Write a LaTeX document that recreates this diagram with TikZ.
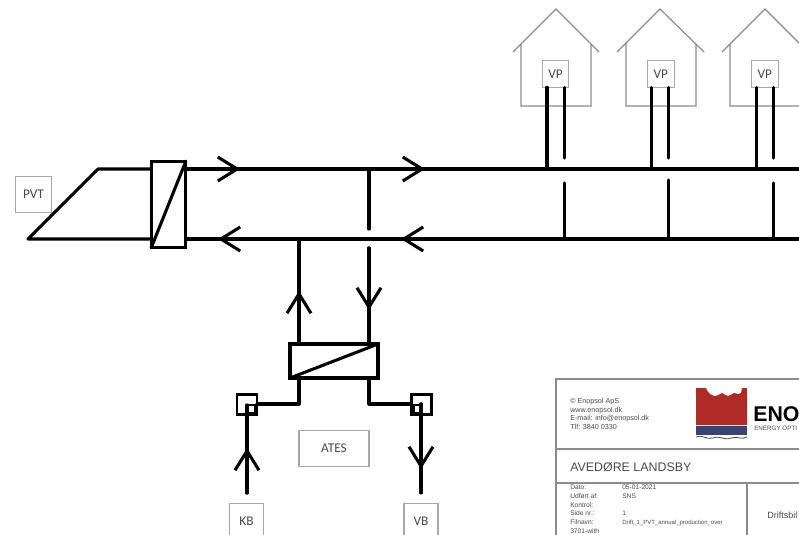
\documentclass[tikz,border=0pt]{standalone}
\usepackage{fontspec}
\usepackage{xcolor}
\setmainfont{Carlito}
\newfontfamily\blockfont{Liberation Sans}
\definecolor{boxgray}{HTML}{a8a8a8}
\definecolor{housegray}{HTML}{8c8c8c}
\definecolor{labelgray}{HTML}{4a4a4a}
\definecolor{logored}{HTML}{b02a26}
\definecolor{logoblue}{HTML}{3a4373}
\usetikzlibrary{arrows.meta, positioning}

\begin{document}
\begin{tikzpicture}[
    x=0.75pt, y=-0.75pt,
    pipe/.style={line width=2.3pt, line cap=round, line join=round},
    flow/.style={pipe, -{Straight Barb[length=14.5pt, width=18pt, line width=2.3pt]}},
    exchanger/.style={draw, line width=2.4pt, inner sep=0pt, outer sep=0pt},
    valve/.style={draw, line width=1.7pt, inner sep=0pt, outer sep=0pt},
    tag/.style={draw=boxgray, line width=0.8pt, fill=white, inner sep=0pt, outer sep=0pt, text=labelgray, font=\fontsize{10}{11}\selectfont},
    house/.style={draw=housegray, line width=0.9pt, line join=miter},
    frame/.style={draw=housegray, line width=0.9pt},
    blocktext/.style={align=left, inner sep=0pt, text=labelgray, font=\blockfont\fontsize{5}{6.5}\selectfont}
]
    \useasboundingbox (0,0) rectangle (799,535);
    \clip (0,0) rectangle (799,535);

    % Collector and main exchanger
    \node[tag, minimum width=26.5pt, minimum height=26.5pt] (pvt) at (33.5,194.5) {PVT};
    \node[exchanger, minimum width=26pt, minimum height=65pt] (hx1) at (168.5,204.5) {};
    \coordinate (ctop) at (98,169);
    \coordinate (cbot) at (28,239);
    \coordinate (tarrow1) at (240,169);
    \coordinate (tarrow2) at (425,169);
    \coordinate (tend) at (799,169);
    \coordinate (barrow1) at (218,239);
    \coordinate (barrow2) at (401,239);
    \coordinate (bend) at (799,239);

    \draw[pipe] (hx1.west |- ctop) -- (ctop) -- (cbot) -- (hx1.west |- cbot);
    \draw[pipe] (hx1.north east) -- (hx1.south west);
    \draw[flow] (hx1.east |- ctop) -- (tarrow1);
    \draw[flow] (tarrow1) -- (tarrow2);
    \draw[pipe] (hx1.east |- ctop) -- (tend);
    \draw[flow] (bend) -- (barrow2);
    \draw[flow] (barrow2) -- (barrow1);
    \draw[pipe] (bend) -- (hx1.east |- cbot);

    % Lower exchanger
    \node[exchanger, minimum width=66pt, minimum height=25.5pt] (hx2) at (334,361) {};
    \draw[pipe] (hx2.north east) -- (hx2.south west);
    \coordinate (riser) at (299,239);
    \coordinate (rarrow) at (299,291);
    \coordinate (ltop) at (369,169);
    \coordinate (lgap) at (369,229);
    \coordinate (lstart) at (369,248);
    \coordinate (larrow) at (369,310);
    \draw[flow] (riser |- hx2.north) -- (rarrow);
    \draw[pipe] (riser |- hx2.north) -- (riser);
    \draw[pipe] (ltop) -- (lgap);
    \draw[flow] (lstart) -- (larrow);
    \draw[pipe] (lstart) -- (lstart |- hx2.north);

    % Valves
    \node[valve, minimum width=15pt, minimum height=15pt] (kvalve) at (247,404.5) {};
    \node[valve, minimum width=6pt, minimum height=6pt] (kinner) at (251,409) {};
    \node[valve, minimum width=15pt, minimum height=15pt] (vvalve) at (421.5,404.5) {};
    \node[valve, minimum width=6pt, minimum height=6pt] (vinner) at (417.5,409) {};
    \coordinate (kelbow) at (299,404);
    \coordinate (velbow) at (369,404);
    \draw[pipe] (kelbow |- hx2.south) -- (kelbow) -- (kvalve.east |- kelbow);
    \draw[pipe] (velbow |- hx2.south) -- (velbow) -- (vvalve.west |- velbow);

    % Labels
    \node[tag, minimum width=52.5pt, minimum height=26.5pt] (ates) at (334,448.5) {ATES};
    \node[tag, minimum width=25.5pt, minimum height=26.5pt] (kb) at (246.5,521) {KB};
    \node[tag, minimum width=25.5pt, minimum height=26.5pt] (vb) at (421,521) {VB};
    \coordinate (kstart) at (247,493);
    \coordinate (karrow) at (247,448);
    \coordinate (vstart) at (421,404);
    \coordinate (varrow) at (421,469);
    \coordinate (vstop) at (421,493);
    \draw[flow] (kstart) -- (karrow);
    \draw[pipe] (kstart) -- (karrow |- kinner.north);
    \draw[flow] (vstart) -- (varrow);
    \draw[pipe] (vstart) -- (vstop);

    % Houses
    \draw[house] (513,52) -- (556,9) -- (599,52) (521,44) -- (521,106) -- (591,106) -- (591,44);
    \draw[house] (617,52) -- (660,9) -- (704,52) (626,44) -- (626,106) -- (696,106) -- (696,44);
    \draw[house] (722,52) -- (765,9) -- (808,52) (730,44) -- (730,106) -- (800,106) -- (800,44);
    \node[tag, minimum width=20pt, minimum height=20pt] (vp1) at (555.5,74) {VP};
    \node[tag, minimum width=20pt, minimum height=20pt, right=59pt of vp1] (vp2) {VP};
    \node[tag, minimum width=20pt, minimum height=20pt, right=58pt of vp2] (vp3) {VP};

    % Heat pump branches
    \coordinate (stop) at (0,158);
    \coordinate (low1) at (0,183);
    \coordinate (low2) at (0,180);
    \draw[pipe] ([xshift=-6.4pt]vp1.south) -- ([xshift=-6.4pt]vp1.south |- tend);
    \draw[pipe] ([xshift=6.4pt]vp1.south) -- ([xshift=6.4pt]vp1.south |- stop);
    \draw[pipe] ([xshift=6.4pt]vp1.south |- low1) -- ([xshift=6.4pt]vp1.south |- bend);
    \draw[pipe] ([xshift=-6.8pt]vp2.south) -- ([xshift=-6.8pt]vp2.south |- tend);
    \draw[pipe] ([xshift=6pt]vp2.south) -- ([xshift=6pt]vp2.south |- stop);
    \draw[pipe] ([xshift=6pt]vp2.south |- low2) -- ([xshift=6pt]vp2.south |- bend);
    \draw[pipe] ([xshift=-6pt]vp3.south) -- ([xshift=-6pt]vp3.south |- tend);
    \draw[pipe] ([xshift=6.8pt]vp3.south) -- ([xshift=6.8pt]vp3.south |- stop);
    \draw[pipe] ([xshift=6.8pt]vp3.south |- low1) -- ([xshift=6.8pt]vp3.south |- bend);

    % Title block
    \draw[frame] (810,379) -- (556,379) -- (556,545);
    \draw[frame] (556,449) -- (810,449);
    \draw[frame] (556,483) -- (810,483);
    \draw[frame] (747,483) -- (747,545);
    \node[blocktext, anchor=north west, font=\blockfont\fontsize{5.4}{6.5}\selectfont] (contact) at (570,398) {\textcopyright{} Enopsol ApS\\www.enopsol.dk\\E-mail: info@enopsol.dk\\Tlf: 3840 0330};
    \node[blocktext, anchor=west, font=\blockfont\fontsize{9.3}{11}\selectfont] (project) at (570,467) {AVEDØRE LANDSBY};
    \node[blocktext, anchor=north west] (fields) at (570,485) {Dato:\\Udført af:\\Kontrol:\\Side nr.:\\Filnavn:\\3701-with};
    \node[blocktext, anchor=north west] (values) at (622,485) {05-01-2021\\SNS\\\phantom{X}\\1\\{\fontsize{4.5}{6.5}\selectfont Drift\_1\_PVT\_annual\_production\_over}};
    \node[blocktext, anchor=west, font=\blockfont\fontsize{6.8}{8}\selectfont] (drawing) at (767,515) {Driftsbil};

    % Logo
    \fill[logored] (696,388) -- (706,388) .. controls (708,394) and (712,396) .. (716,396) .. controls (719,396) and (720,393) .. (722,393) .. controls (724,393) and (725,396) .. (728,396) .. controls (731,396) and (732,393) .. (734,393) .. controls (736,393) and (738,395) .. (741,393) -- (742,388) -- (747,388) -- (747,425) -- (696,425) -- cycle;
    \fill[logoblue] (696,426) rectangle (747,435);
    \draw[logoblue, line width=0.6pt] (696,437) .. controls (702,434) and (706,440) .. (713,438) .. controls (720,435) and (724,441) .. (731,438) .. controls (737,436) and (742,440) .. (747,437);
    \node[anchor=base west, inner sep=0pt, font=\blockfont\bfseries\fontsize{16}{18}\selectfont] (brand) at (753,421.5) {ENO};
    \node[anchor=base west, inner sep=0pt, text=labelgray, font=\blockfont\fontsize{4.7}{5}\selectfont] (slogan) at (754,430) {ENERGY OPTI};
\end{tikzpicture}
\end{document}
